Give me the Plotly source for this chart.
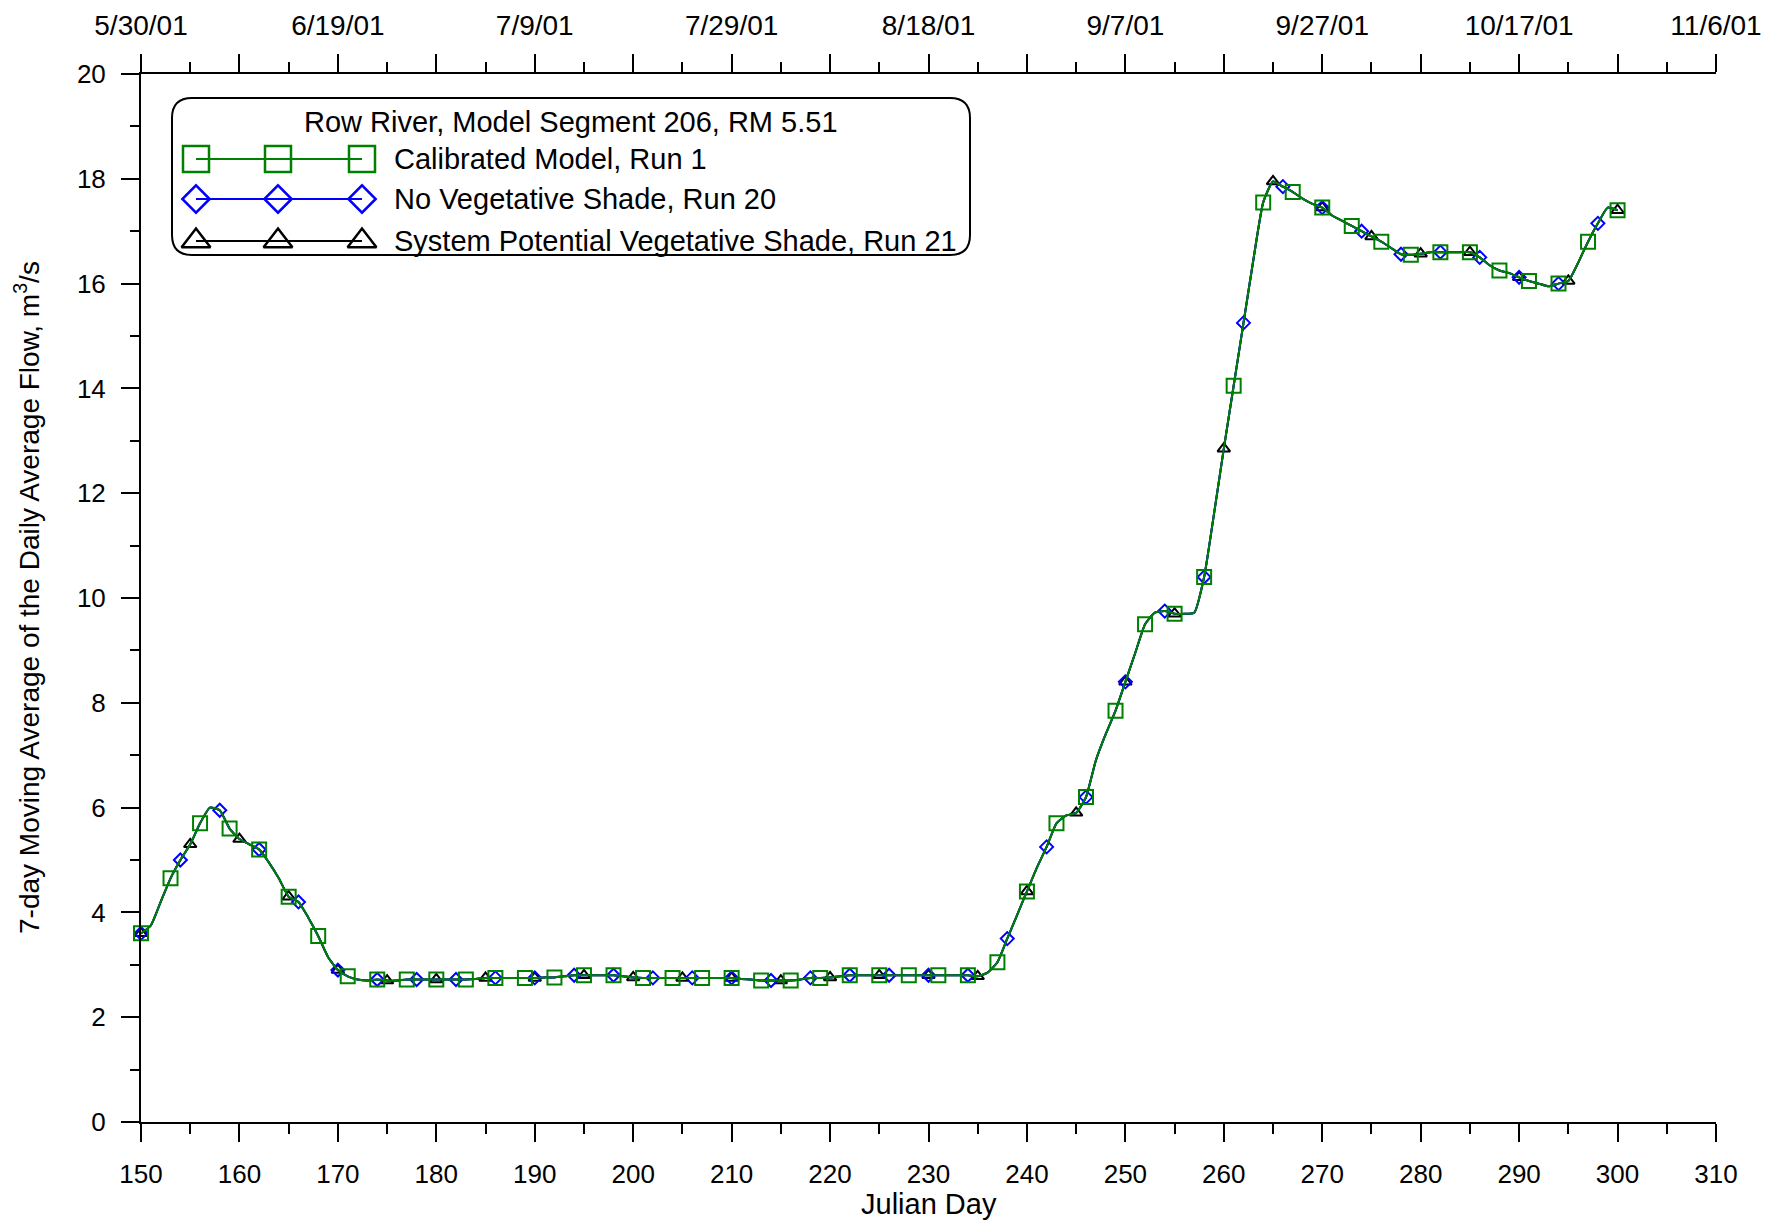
import plotly.graph_objects as go

# Julian day 150..300, daily 7-day average flow (m3/s); the three runs plot on top of each other
days = list(range(150, 301))
flow_run1 = [
    3.6, 3.75, 4.2, 4.65, 5.0, 5.3, 5.7, 6.0, 5.95, 5.6,
    5.4, 5.3, 5.2, 4.95, 4.65, 4.3, 4.2, 3.9, 3.55, 3.15,
    2.9, 2.78, 2.72, 2.7, 2.72, 2.7, 2.7, 2.72, 2.72, 2.72,
    2.72, 2.72, 2.72, 2.72, 2.73, 2.75, 2.75, 2.75, 2.75, 2.75,
    2.75, 2.76, 2.76, 2.78, 2.8, 2.8, 2.8, 2.8, 2.8, 2.78,
    2.76, 2.75, 2.75, 2.75, 2.75, 2.75, 2.75, 2.75, 2.75, 2.75,
    2.75, 2.73, 2.72, 2.7, 2.7, 2.7, 2.7, 2.72, 2.75, 2.75,
    2.76, 2.78, 2.8, 2.8, 2.8, 2.8, 2.8, 2.8, 2.8, 2.8,
    2.8, 2.8, 2.8, 2.8, 2.8, 2.78, 2.85, 3.05, 3.5, 3.95,
    4.4, 4.85, 5.25, 5.7, 5.85, 5.9, 6.2, 6.9, 7.4, 7.85,
    8.4, 8.95, 9.5, 9.72, 9.75, 9.7, 9.7, 9.72, 10.4, 11.6,
    12.85, 14.05, 15.25, 16.45, 17.55, 17.95, 17.85, 17.75, 17.62, 17.52,
    17.45, 17.3, 17.2, 17.1, 17.0, 16.9, 16.8, 16.68, 16.56, 16.55,
    16.57, 16.6, 16.6, 16.6, 16.6, 16.6, 16.5, 16.35, 16.25, 16.2,
    16.12, 16.05, 16.0, 15.95, 16.0, 16.05, 16.4, 16.8, 17.15, 17.45,
    17.4,
]
flow_run20 = flow_run1
flow_run21 = flow_run1

legend_title = "Row River, Model Segment 206, RM 5.51"
series_names = ["Calibrated Model, Run 1", "No Vegetative Shade, Run 20",
                "System Potential Vegetative Shade, Run 21"]
x_title = "Julian Day"
y_title = "7-day Moving Average of the Daily Average Flow, m<sup>3</sup>/s"

bottom_ticks = list(range(150, 311, 10))
top_label_ticks = list(range(150, 311, 20))
top_tick_labels = ["5/30/01", "6/19/01", "7/9/01", "7/29/01", "8/18/01",
                   "9/7/01", "9/27/01", "10/17/01", "11/6/01"]
top_ticks = list(range(150, 311, 10))

FONT = "Arial, Liberation Sans, sans-serif"
# page body has an 8px margin, so the figure is shifted by 8px
PAGE_OFF = 8
W, H = 1786 - PAGE_OFF, 1225 - PAGE_OFF
PLOT_L, PLOT_R, PLOT_T, PLOT_B = 141, 1716, 74, 1122   # plot box on screen
L, T = PLOT_L - PAGE_OFF, PLOT_T - PAGE_OFF
R, B = W - (PLOT_R - PAGE_OFF), H - (PLOT_B - PAGE_OFF)
PW, PH = PLOT_R - PLOT_L, PLOT_B - PLOT_T


def px_x(p):
    return (p - PLOT_L) / PW


def px_y(p):
    return (PLOT_B - p) / PH


styles = [
    # name, flows, step, color, symbol, size, legend size
    (series_names[2], flow_run21, 5, "black", "triangle-up-open", 11, 25),
    (series_names[1], flow_run20, 4, "#0000ff", "diamond-open", 10, 21),
    (series_names[0], flow_run1, 3, "#008000", "square-open", 14, 26),
]

fig = go.Figure()
for name, flows, step, color, symbol, size, _ in styles:
    fig.add_trace(go.Scatter(x=days, y=flows, mode="lines", line=dict(color=color, width=2, shape="spline", smoothing=0.5),
                             showlegend=False, hoverinfo="skip", cliponaxis=False))
    fig.add_trace(go.Scatter(x=days[::step], y=flows[::step], mode="markers", name=name,
                             marker=dict(symbol=symbol, size=size, color=color, line=dict(color=color, width=2)),
                             showlegend=False, cliponaxis=False))

# traces that just make the top date axes exist
fig.add_trace(go.Scatter(x=days, y=flow_run1, mode="none", xaxis="x2", showlegend=False, hoverinfo="skip"))
fig.add_trace(go.Scatter(x=days, y=flow_run1, mode="none", xaxis="x4", showlegend=False, hoverinfo="skip"))

# hand-made legend (line with three markers, like the original)
leg_x = [px_x(196), px_x(278), px_x(362)]
rows_y = [px_y(159), px_y(199), px_y(241)]
for (name, flows, step, color, symbol, size, lsize), ry in zip(reversed(styles), rows_y):
    fig.add_trace(go.Scatter(x=leg_x, y=[ry] * 3, mode="lines+markers", xaxis="x3", yaxis="y3",
                             line=dict(color=color, width=2),
                             marker=dict(symbol=symbol, size=lsize, color=color, line=dict(color=color, width=2.5)),
                             showlegend=False, hoverinfo="skip", cliponaxis=False))
    fig.add_annotation(x=px_x(392), y=ry, xref="paper", yref="paper", text=name, showarrow=False,
                       xanchor="left", yanchor="middle", font=dict(size=29, color="black", family=FONT))
fig.add_annotation(x=px_x(571), y=px_y(122), xref="paper", yref="paper", text=legend_title, showarrow=False,
                   xanchor="center", yanchor="middle", font=dict(size=29, color="black", family=FONT))

x0, x1, y0, y1 = px_x(172), px_x(970), px_y(255), px_y(98)
rx, ry = 20 / PW, 20 / PH
path = (f"M {x0+rx},{y1} L {x1-rx},{y1} Q {x1},{y1} {x1},{y1-ry} L {x1},{y0+ry} Q {x1},{y0} {x1-rx},{y0} "
        f"L {x0+rx},{y0} Q {x0},{y0} {x0},{y0+ry} L {x0},{y1-ry} Q {x0},{y1} {x0+rx},{y1} Z")
fig.add_shape(type="path", path=path, xref="paper", yref="paper", line=dict(color="black", width=2),
              fillcolor="white", layer="below")

# axis titles
fig.add_annotation(x=0.5, y=px_y(1204), xref="paper", yref="paper", text=x_title, showarrow=False,
                   xanchor="center", yanchor="middle", font=dict(size=29, color="black", family=FONT))
fig.add_annotation(x=px_x(27), y=0.5, xref="paper", yref="paper", text=y_title, showarrow=False, textangle=-90,
                   xanchor="center", yanchor="middle", font=dict(size=28, color="black", family=FONT))

axis_common = dict(showline=True, linecolor="black", linewidth=2, showgrid=False, zeroline=False,
                   ticks="outside", ticklen=18, tickwidth=2, tickcolor="black", automargin=False,
                   tickfont=dict(size=26, color="black", family=FONT))
minor_x = dict(dtick=5, ticklen=10, tickwidth=2, tickcolor="black", ticks="outside")

fig.update_layout(
    width=W, height=H,
    margin=dict(l=L, r=R, t=T, b=B),
    paper_bgcolor="white", plot_bgcolor="white",
    font=dict(family=FONT, color="black"),
    xaxis=dict(range=[150, 310], tickvals=bottom_ticks, ticklabelstandoff=10, minor=minor_x, **axis_common),
    xaxis2=dict(range=[150, 310], overlaying="x", side="top", anchor="y", tickvals=top_label_ticks,
                ticktext=top_tick_labels, ticklabelstandoff=8,
                **{**axis_common, "tickfont": dict(size=28, color="black", family=FONT)}),
    xaxis4=dict(range=[150, 310], overlaying="x", side="top", anchor="y", tickvals=top_ticks,
                showticklabels=False, minor=minor_x, **axis_common),
    yaxis=dict(range=[0, 20], tickvals=list(range(0, 21, 2)), ticklabelstandoff=10,
               minor=dict(dtick=1, ticklen=9, tickwidth=2, tickcolor="black", ticks="outside"),
               **axis_common),
    xaxis3=dict(domain=[0, 1], range=[0, 1], anchor="y3", overlaying="x", visible=False),
    yaxis3=dict(domain=[0, 1], range=[0, 1], anchor="x3", overlaying="y", visible=False),
    showlegend=False,
)

fig.write_html("out.html")
